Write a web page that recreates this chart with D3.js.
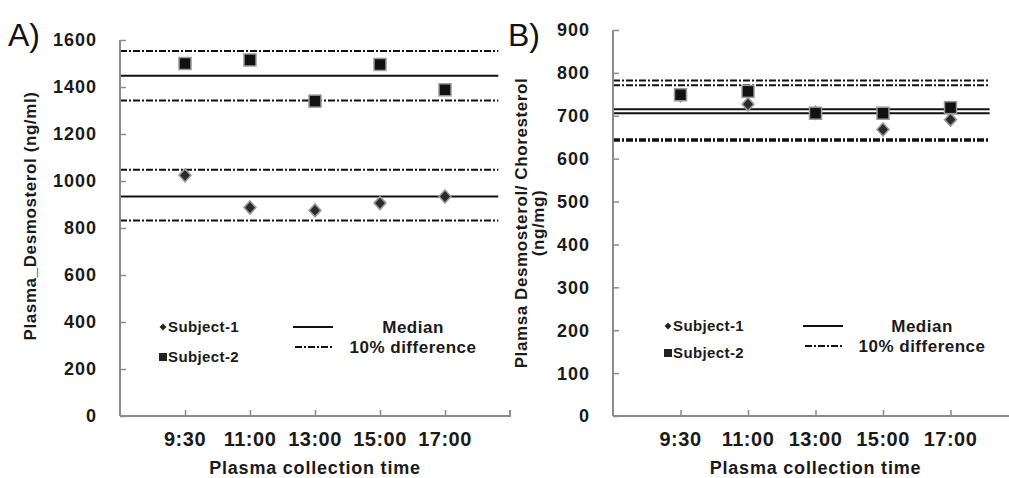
<!DOCTYPE html>
<html>
<head>
<meta charset="utf-8">
<script src="https://cdn.jsdelivr.net/npm/d3@7"></script>
<style>
  body { margin: 0; background: #fff; }
  text { font-family: "Liberation Sans", Arial, sans-serif; font-weight: bold; fill: #1a1a1a; }
  text.letter { font-weight: normal; fill: #111; }
</style>
</head>
<body>
<svg width="1009" height="478"></svg>
<script>
  const times = ['9:30', '11:00', '13:00', '15:00', '17:00'];

  // panel A, ng/ml
  const aSubject1 = [1024, 887, 875, 906, 934];
  const aSubject2 = [1500, 1515, 1340, 1496, 1388];
  const aMedians = [934, 1448];
  const aBands = [832, 1048, 1343, 1553];
  const aTicks = [0, 200, 400, 600, 800, 1000, 1200, 1400, 1600];

  // panel B, ng/mg
  const bSubject1 = [748, 727, 707, 668, 691];
  const bSubject2 = [749, 757, 706, 706, 719];
  const bMedians = [706, 715];
  const bBands = [642, 645, 771, 782];
  const bTicks = [0, 100, 200, 300, 400, 500, 600, 700, 800, 900];

  const svg = d3.select('svg');
  const axisColor = '#8c8c8c';
  const dashDot = '7,2,2,2';

  function drawPanel(p) {
    const x = d3.scaleLinear().domain([0, 6]).range([p.left, p.right]);
    const y = d3.scaleLinear().domain([0, p.max]).range([416, p.top]);
    const g = svg.append('g');

    // horizontal reference lines
    g.selectAll('.band').data(p.bands).join('line')
      .attr('x1', x(0)).attr('x2', x(p.lineEnd))
      .attr('y1', d => y(d)).attr('y2', d => y(d))
      .attr('stroke', '#111').attr('stroke-width', 2)
      .attr('stroke-dasharray', dashDot);
    g.selectAll('.median').data(p.medians).join('line')
      .attr('x1', x(0)).attr('x2', x(p.lineEnd))
      .attr('y1', d => y(d)).attr('y2', d => y(d))
      .attr('stroke', '#111').attr('stroke-width', 2);

    // y axis
    const yAxis = g.append('g')
      .attr('transform', `translate(${p.left},0)`)
      .call(d3.axisRight(y).tickValues(p.ticks).tickSize(6).tickFormat(''));
    yAxis.select('.domain').attr('stroke', axisColor).attr('stroke-width', 2)
      .attr('d', `M0,${y(p.max)}V${y(0)}`);
    yAxis.selectAll('.tick line').attr('stroke', axisColor).attr('stroke-width', 1.5);
    g.selectAll('.ylab').data(p.ticks).join('text')
      .attr('x', p.left - 23).attr('y', d => y(d)).attr('dy', '0.36em')
      .attr('text-anchor', 'end').attr('font-size', 18).attr('letter-spacing', 1)
      .text(d => d);

    // x axis
    const xAxis = g.append('g')
      .attr('transform', `translate(0,${y(0)})`)
      .call(d3.axisTop(x).tickValues([1, 2, 3, 4, 5]).tickSize(6).tickFormat(''));
    xAxis.select('.domain').attr('stroke', axisColor).attr('stroke-width', 2)
      .attr('d', `M${x(0)},0H${x(6)}V-6`);
    xAxis.selectAll('.tick line').attr('stroke', axisColor).attr('stroke-width', 1.5);
    g.selectAll('.xlab').data(times).join('text')
      .attr('x', (d, i) => x(i + 1)).attr('y', 446)
      .attr('text-anchor', 'middle').attr('font-size', 20).attr('letter-spacing', 0.5)
      .text(d => d);
    g.append('text')
      .attr('x', x(1) + (x(5) - x(1)) / 2).attr('y', 474)
      .attr('text-anchor', 'middle').attr('font-size', 18).attr('letter-spacing', 0.8)
      .text('Plasma collection time');

    // y title
    p.yTitle.forEach((t, i) => {
      g.append('text')
        .attr('transform', `translate(${p.yTitleX[i]},${p.yTitleY}) rotate(-90)`)
        .attr('text-anchor', 'middle').attr('font-size', 17).attr('letter-spacing', 0.6)
        .text(t);
    });

    // markers
    const diamond = d3.symbol(d3.symbolDiamond2, 90);
    g.selectAll('.s1').data(p.s1).join('path')
      .attr('d', diamond)
      .attr('transform', (d, i) => `translate(${x(i + 1)},${y(d)}) scale(1,1.1)`)
      .attr('fill', '#2b2b2b').attr('stroke', '#9a9a9a').attr('stroke-width', 1.5);
    g.selectAll('.s2').data(p.s2).join('rect')
      .attr('x', (d, i) => x(i + 1) - 6).attr('y', d => y(d) - 6)
      .attr('width', 12).attr('height', 12)
      .attr('fill', '#111').attr('stroke', '#9a9a9a').attr('stroke-width', 1.5);

    // legend
    const L = p.legend;
    g.append('path').attr('d', d3.symbol(d3.symbolDiamond2, 30))
      .attr('transform', `translate(${L.x},${L.y1})`).attr('fill', '#222');
    g.append('rect').attr('x', L.x - 4).attr('y', L.y2 - 4).attr('width', 8).attr('height', 8)
      .attr('fill', '#222');
    g.append('text').attr('x', L.x + 5).attr('y', L.y1).attr('dy', '0.36em')
      .attr('font-size', 15).attr('letter-spacing', 0.4).text('Subject-1');
    g.append('text').attr('x', L.x + 5).attr('y', L.y2).attr('dy', '0.36em')
      .attr('font-size', 15).attr('letter-spacing', 0.4).text('Subject-2');
    g.append('line').attr('x1', L.lx).attr('x2', L.lx + 40)
      .attr('y1', L.y1).attr('y2', L.y1).attr('stroke', '#111').attr('stroke-width', 2);
    g.append('line').attr('x1', L.lx + 2).attr('x2', L.lx + 40)
      .attr('y1', L.y1 + 20).attr('y2', L.y1 + 20).attr('stroke', '#111').attr('stroke-width', 2)
      .attr('stroke-dasharray', dashDot);
    g.append('text').attr('x', L.tx).attr('y', L.y1).attr('dy', '0.36em')
      .attr('text-anchor', 'middle').attr('font-size', 17).attr('letter-spacing', 0.5).text('Median');
    g.append('text').attr('x', L.tx).attr('y', L.y1 + 20).attr('dy', '0.36em')
      .attr('text-anchor', 'middle').attr('font-size', 17).attr('letter-spacing', 0.5).text('10% difference');

    // panel letter
    svg.append('text').attr('class', 'letter').attr('x', p.letterX).attr('y', 46)
      .attr('font-size', 32).text(p.letter);
  }

  drawPanel({
    left: 120, right: 510, top: 40, max: 1600, lineEnd: 5.82,
    ticks: aTicks, s1: aSubject1, s2: aSubject2, medians: aMedians, bands: aBands,
    yTitle: ['Plasma_Desmosterol (ng/ml)'], yTitleX: [36], yTitleY: 216,
    legend: { x: 163, y1: 327, y2: 357, lx: 293, tx: 413 },
    letter: 'A)', letterX: 8
  });

  drawPanel({
    left: 613, right: 1018, top: 30, max: 900, lineEnd: 5.58,
    ticks: bTicks, s1: bSubject1, s2: bSubject2, medians: bMedians, bands: bBands,
    yTitle: ['Plamsa Desmosterol/ Choresterol', '(ng/mg)'], yTitleX: [527, 544], yTitleY: 223,
    legend: { x: 668, y1: 326, y2: 353, lx: 803, tx: 922 },
    letter: 'B)', letterX: 508
  });
</script>
</body>
</html>
